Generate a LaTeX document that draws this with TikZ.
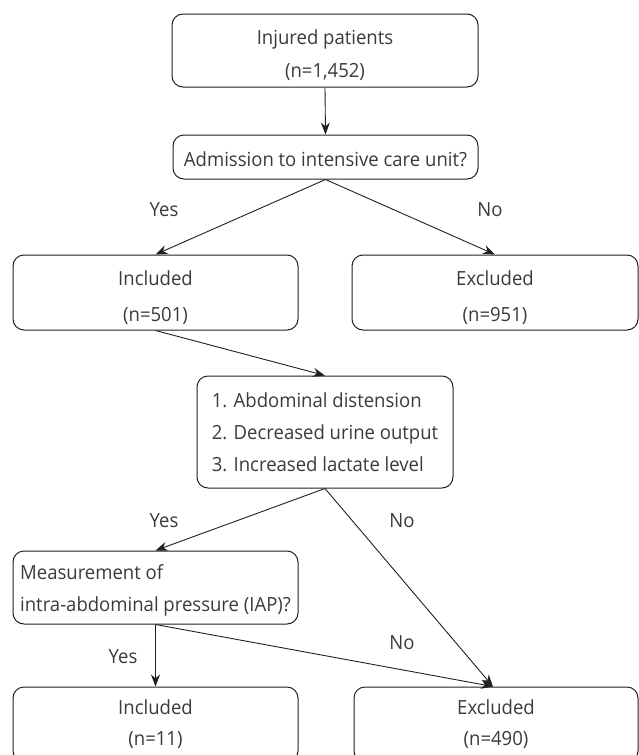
\documentclass[tikz,border=0pt]{standalone}
\usepackage{fontspec}
\setmainfont{Open Sans}[FakeStretch=0.95]
\usetikzlibrary{arrows.meta}
\definecolor{txt}{HTML}{3A3A3A}
\definecolor{lnc}{HTML}{231F20}
\newcommand\lowerby[2]{\raisebox{-#1}[\height][\depth]{#2}}
\begin{document}
\begin{tikzpicture}[x=1pt,y=-1pt,
  box/.style={draw=lnc, line width=1pt, rounded corners=11pt, inner sep=0pt, text=txt,
    font=\fontsize{19.5}{33}\selectfont},
  lab/.style={text=txt, font=\fontsize{19.5}{20}\selectfont, inner sep=0pt},
  arr/.style={draw=lnc, line width=0.9pt, -{Stealth[length=12pt,width=9pt]}}]
\useasboundingbox (0,0) rectangle (639,755);
\clip (0,0) rectangle (639,755);
\node[box, minimum width=306pt, minimum height=73pt] (top) at (325,50.5)
  {\lowerby{4pt}{\begin{tabular}{@{}c@{}}Injured patients\\(n=1,452)\end{tabular}}};
\node[box, minimum width=305pt, minimum height=44pt] (adm) at (325.5,157)
  {\lowerby{2pt}{Admission to intensive care unit?}};
\node[box, minimum width=285pt, minimum height=75pt, font=\fontsize{19.5}{36}\selectfont] (inc1) at (155.5,292.5)
  {\lowerby{4pt}{\begin{tabular}{@{}c@{}}Included\\(n=501)\end{tabular}}};
\node[box, minimum width=286pt, minimum height=75pt, font=\fontsize{19.5}{36}\selectfont] (exc1) at (495,292.5)
  {\lowerby{4pt}{\begin{tabular}{@{}c@{}}Excluded\\(n=951)\end{tabular}}};
\node[box, minimum width=256pt, minimum height=112pt, align=left, font=\fontsize{19.5}{32}\selectfont] (crit) at (325,432)
  {1. Abdominal distension\\2. Decreased urine output\\3. Increased lactate level};
\node[box, minimum width=285pt, minimum height=73pt, font=\fontsize{19.5}{32}\selectfont] (meas) at (155.5,587.5)
  {\lowerby{2pt}{\begin{tabular}{@{}l@{}}Measurement of\\intra-abdominal pressure (IAP)?\end{tabular}}};
\node[box, minimum width=285pt, minimum height=75pt, align=center, font=\fontsize{19.5}{31}\selectfont] (inc2) at (155.5,724.5) {Included\\(n=11)};
\node[box, minimum width=284pt, minimum height=75pt, align=center, font=\fontsize{19.5}{31}\selectfont] (exc2) at (496,724.5) {Excluded\\(n=490)};
\draw[arr] (top.south) -- (adm.north);
\draw[arr] (adm.south) -- (inc1.north);
\draw[arr] (adm.south) -- (exc1.north);
\draw[arr] (inc1.south) -- (crit.north);
\draw[arr] (crit.south) -- (meas.north);
\draw[arr] (crit.south) -- ([xshift=-3pt]exc2.north);
\draw[arr] (meas.south) -- (inc2.north);
\draw[arr] (meas.south) -- ([xshift=-3pt]exc2.north);
\node[lab] (y1) at (164,210) {Yes};
\node[lab] (n1) at (490,210) {No};
\node[lab] (y2) at (164,521) {Yes};
\node[lab] (n2) at (402,521) {No};
\node[lab] (y3) at (123,657) {Yes};
\node[lab] (n3) at (402,643) {No};
\end{tikzpicture}
\end{document}
